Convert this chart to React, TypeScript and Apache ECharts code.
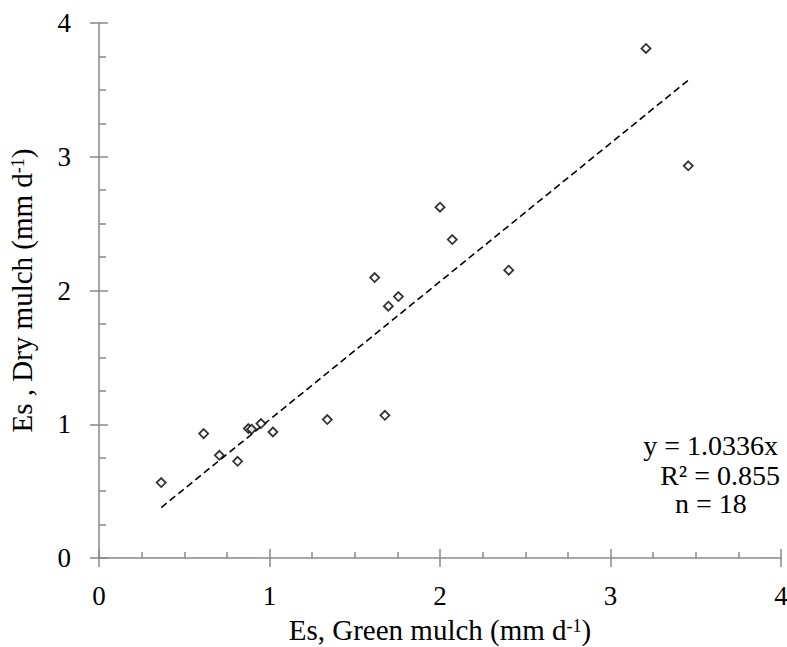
import React, { useEffect, useRef } from "react";
import * as echarts from "echarts";

// Es, Green mulch (mm d-1)
const greenMulch = [0.365, 0.614, 0.706, 0.813, 0.876, 0.895, 0.95, 1.02, 1.339, 1.617, 1.677, 1.697, 1.756, 2.0, 2.072, 2.403, 3.208, 3.456];
// Es, Dry mulch (mm d-1)
const dryMulch = [0.564, 0.93, 0.768, 0.723, 0.968, 0.963, 1.005, 0.942, 1.035, 2.097, 1.067, 1.883, 1.955, 2.623, 2.381, 2.152, 3.81, 2.932];
const slope = 1.0336;
const equationLines = ["y = 1.0336x", "R² = 0.855", "n = 18"];
const axisMin = 0;
const axisMax = 4;
const axisInterval = 1;

const FONT = '"Liberation Serif", "Times New Roman", serif';
const AXIS_COLOR = "#888888";

export default function App() {
  const ref = useRef<HTMLDivElement>(null);

  useEffect(() => {
    if (!ref.current) return;
    const chart = echarts.init(ref.current, null, { renderer: "svg" });
    const xMin = Math.min(...greenMulch);
    const xMax = Math.max(...greenMulch);
    const points = greenMulch.map((x, i) => [x, dryMulch[i]]);
    const trend = [
      [xMin, slope * xMin],
      [xMax, slope * xMax],
    ];

    const gridBox = { left: 99, right: 6, top: 23, bottom: 89, outerBoundsMode: "none", containLabel: false };
    const lineStyle = { color: AXIS_COLOR, width: 1.5 };
    const supRich = {
      sup: {
        fontSize: 18,
        fontFamily: FONT,
        color: "#000",
        verticalAlign: "top",
        lineHeight: 10,
      },
    };
    const nameStyle = {
      fontSize: 29,
      fontFamily: FONT,
      color: "#000",
      lineHeight: 26,
      rich: supRich,
    };
    const base = {
      type: "value",
      min: axisMin,
      max: axisMax,
      interval: axisInterval,
      splitLine: { show: false },
    };

    chart.setOption({
      animation: false,
      backgroundColor: "#ffffff",
      grid: [
        { ...gridBox },
        { ...gridBox },
      ],
      xAxis: [
        {
          ...base,
          gridIndex: 0,
          position: "bottom",
          axisLine: { show: true, lineStyle },
          axisTick: { show: true, inside: false, length: 9, lineStyle },
          axisLabel: { color: "#000", fontSize: 27, fontFamily: FONT, margin: 23, lineHeight: 30 },
          name: "Es, Green mulch (mm d{sup|-1})",
          nameLocation: "middle",
          nameGap: 59,
          nameTextStyle: nameStyle,
        },
        {
          ...base,
          gridIndex: 1,
          position: "bottom",
          axisLine: { show: false },
          axisTick: { show: true, inside: true, length: 9, lineStyle },
          minorTick: { show: true, splitNumber: 4, length: 6, lineStyle },
          axisLabel: { show: false },
        },
      ],
      yAxis: [
        {
          ...base,
          gridIndex: 0,
          position: "left",
          axisLine: { show: true, lineStyle },
          axisTick: { show: true, inside: false, length: 9, lineStyle },
          axisLabel: { color: "#000", fontSize: 27, fontFamily: FONT, margin: 28 },
          name: "Es , Dry mulch (mm d{sup|-1})",
          nameLocation: "middle",
          nameGap: 64,
          nameTextStyle: nameStyle,
        },
        {
          ...base,
          gridIndex: 1,
          position: "left",
          axisLine: { show: false },
          axisTick: { show: true, inside: true, length: 9, lineStyle },
          minorTick: { show: true, splitNumber: 4, length: 7, lineStyle },
          axisLabel: { show: false },
        },
      ],
      series: [
        {
          type: "line",
          xAxisIndex: 0,
          yAxisIndex: 0,
          data: trend,
          symbol: "none",
          lineStyle: { color: "#000", width: 1.6, type: [7, 4] },
          z: 2,
        },
        {
          type: "scatter",
          xAxisIndex: 0,
          yAxisIndex: 0,
          data: points,
          symbol: "diamond",
          symbolSize: 9,
          itemStyle: { color: "#ffffff", borderColor: "#000", borderWidth: 1.8 },
          z: 3,
        },
      ],
      graphic: [
        {
          type: "text",
          right: 9,
          top: 431,
          style: { text: equationLines[0], fontSize: 28, fontFamily: FONT, fill: "#000" },
        },
        {
          type: "text",
          right: 7,
          top: 461,
          style: { text: equationLines[1], fontSize: 28, fontFamily: FONT, fill: "#000" },
        },
        {
          type: "text",
          left: 675,
          top: 489,
          style: { text: equationLines[2], fontSize: 28, fontFamily: FONT, fill: "#000" },
        },
      ],
    });

    return () => chart.dispose();
  }, []);

  return <div ref={ref} style={{ width: 787, height: 647, position: "absolute", left: 0, top: 0 }} />;
}
